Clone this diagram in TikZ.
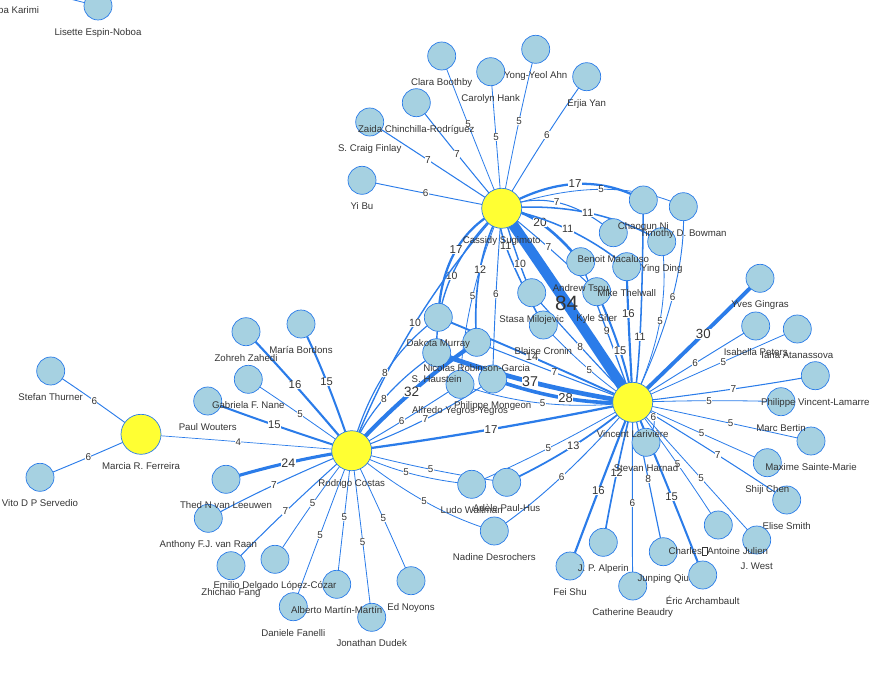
\documentclass[tikz,border=0pt]{standalone}
\usepackage{fontspec}
\setmainfont{Liberation Sans}
\usetikzlibrary{calc}

\definecolor{linkblue}{HTML}{2B7CE9}
\definecolor{authorfill}{RGB}{166,209,225}
\definecolor{hubfill}{RGB}{255,255,51}
\definecolor{labelgray}{HTML}{343434}

\pgfdeclarelayer{edges}
\pgfsetlayers{edges,main}

\begin{document}
\begin{tikzpicture}[
    x=1pt, y=-1pt,
    author/.style={circle, draw=linkblue, fill=authorfill, line width=0.7pt,
        minimum size=28pt, inner sep=0pt},
    hub/.style={author, fill=hubfill, minimum size=40pt},
    every label/.style={font=\fontsize{9.66}{11}\selectfont, text=labelgray,
        inner sep=0pt, text height=7pt, text depth=2pt, yshift=-8pt},
    link/.style={draw=linkblue,
        /utils/exec={\pgfmathsetmacro\linkw{0.69+0.12075*(#1-4)}}, line width=\linkw pt},
    wt/.style={midway, fill=white, inner sep=0.3pt, text=labelgray,
        /utils/exec={\pgfmathsetmacro\wtsize{9.66+0.138*(#1-4)}},
        font=\fontsize{\wtsize pt}{\wtsize pt}\selectfont},
    thru/.style={to path={.. controls ($1.3333*(#1)-0.3333*(\tikztotarget)$)
        and ($1.3333*(#1)-0.3333*(\tikztostart)$) .. (\tikztotarget) \tikztonodes}}
]
\useasboundingbox (0,0) rectangle (890,687);

% --- left group ---
\node[author, label=below:Paul Wouters] (PW) at (207.7,401) {};
\node[author, label=below:Gabriela F. Nane] (GN) at (248.3,379.3) {};
\node[author, label=below:Zohreh Zahedi] (ZZ) at (246,331.7) {};
\node[author, label=below:María Bordons] (MBo) at (301,324) {};
\node[author, label=below:Stefan Thurner] (ST) at (50.7,371) {};
\node[author, label=below:Vito D P Servedio] (VS) at (40,477.3) {};
\node[hub, label=below:Marcia R. Ferreira] (MF) at (141,434.3) {};
\node[author, label=below:Fariba Karimi] (FK) at (10.3,-16) {};
\node[author, label=below:Lisette Espin-Noboa] (LE) at (98,6) {};

% --- Sugimoto group ---
\node[author, label=below:Yi Bu] (YB) at (362,180.3) {};
\node[author, label=below:S. Craig Finlay] (SF) at (369.7,122) {};
\node[author, label=below:Zaida Chinchilla-Rodríguez] (ZC) at (416.3,102.7) {};
\node[author, label=below:Clara Boothby] (CB) at (441.7,56) {};
\node[author, label=below:Carolyn Hank] (CH) at (490.7,71.7) {};
\node[author, label=below:Yong-Yeol Ahn] (YA) at (535.7,49.3) {};
\node[author, label=below:Erjia Yan] (EY) at (586.7,76.7) {};
\node[hub, label=below:Cassidy Sugimoto] (CS) at (501.7,208.3) {};
\node[author, label=below:Kyle Siler] (KS) at (596.7,291.7) {};
\node[author, label=below:Andrew Tsou] (AT) at (580.7,261.7) {};
\node[author, label=below:Mike Thelwall] (MT) at (626.7,266.7) {};
\node[author, label=below:Benoit Macaluso] (BM) at (613.3,232.7) {};
\node[author, label=below:Ying Ding] (YD) at (661.7,241.7) {};
\node[author, label=below:Chaoqun Ni] (CN) at (643.3,200) {};
\node[author, label=below:Timothy D. Bowman] (TB) at (683.3,206.7) {};
\node[author, label=below:Blaise Cronin] (BC) at (543.3,325) {};
\node[author, label=below:Stasa Milojevic] (SM) at (531.7,292.7) {};

% --- middle ---
\node[author, label=below:Alfredo Yegros-Yegros] (AY) at (460,384.3) {};
\node[author, label=below:Philippe Mongeon] (PM) at (492.7,379) {};
\node[author, label=below:S. Haustein] (SHau) at (436.7,352.7) {};
\node[author, label=below:Nicolas Robinson-Garcia] (NR) at (476.7,342.3) {};
\node[author, label=below:Dakota Murray] (DM) at (438.3,317.3) {};

% --- Larivière group ---
\node[author, label=below:Yves Gingras] (YG) at (760,278.3) {};
\node[author, label=below:Isabella Peters] (IP) at (755.7,326) {};
\node[author, label=below:Iana Atanassova] (IA) at (797.3,329) {};
\node[author, label=below:Elise Smith] (ES) at (786.7,500) {};
\node[author, label=below:Shiji Chen] (SC) at (767.3,462.7) {};
\node[author, label=below:Maxime Sainte-Marie] (MS) at (811,441) {};
\node[author, label=below:Marc Bertin] (MBe) at (781,401.7) {};
\node[author, label=below:Philippe Vincent-Lamarre] (PV) at (815.3,375.7) {};
\node[author, label=below:Stevan Harnad] (SHar) at (646,442.3) {};
\node[hub, label=below:Vincent Larivière] (VL) at (632.7,402.3) {};
\node[author, label=below:Éric Archambault] (EA) at (702.7,575) {};
\node[author, label=below:Catherine Beaudry] (CBe) at (632.7,586) {};
\node[author, label=below:Junping Qiu] (JQ) at (663.3,551.7) {};
\node[author, label=below:J. West] (JW) at (756.7,540) {};
\node[author, label={below:Charles{\fboxsep=0pt\fboxrule=0.5pt\fbox{\rule{0pt}{7pt}\hspace{4.5pt}}}Antoine Julien}] (CJ) at (718.3,525) {};
\node[author, label=below:Fei Shu] (FS) at (570,566) {};
\node[author, label=below:J. P. Alperin] (JA) at (603.3,542.3) {};

% --- Costas group ---
\node[author, label=below:Nadine Desrochers] (ND) at (494.3,531) {};
\node[author, label=below:Ludo Waltman] (LW) at (471.7,484.3) {};
\node[author, label=below:Adèle Paul-Hus] (AP) at (506.7,482.3) {};
\node[author, label=below:Jonathan Dudek] (JD) at (371.7,617.3) {};
\node[author, label=below:Daniele Fanelli] (DF) at (293.3,606.7) {};
\node[author, label=below:Alberto Martín-Martín] (AM) at (336.7,584.3) {};
\node[author, label=below:Zhichao Fang] (ZF) at (231,565.7) {};
\node[author, label=below:Emilio Delgado López-Cózar] (ED) at (275,559.3) {};
\node[author, label=below:Anthony F.J. van Raan] (AR) at (208.3,518.3) {};
\node[author, label=below:Thed N van Leeuwen] (TL) at (226,479.3) {};
\node[author, label=below:Ed Noyons] (EN) at (411,580.7) {};
\node[hub, label=below:Rodrigo Costas] (RC) at (351.7,450.7) {};

\begin{pgfonlayer}{edges}
% Ferreira / Espin-Noboa
\draw[link=6] (MF.center) to[thru={94.3,400.7}] node[wt=6]{6} (ST.center);
\draw[link=6] (MF.center) to[thru={88.3,457.3}] node[wt=6]{6} (VS.center);
\draw[link=4] (MF.center) to[thru={238.3,441.7}] node[wt=4]{4} (RC.center);
\draw[link=5] (FK.center) -- (LE.center);

% Sugimoto
\draw[link=6] (CS.center) to[thru={425.7,193.3}] node[wt=6]{6} (YB.center);
\draw[link=7] (CS.center) to[thru={428,160}] node[wt=7]{7} (SF.center);
\draw[link=7] (CS.center) to[thru={457,154}] node[wt=7]{7} (ZC.center);
\draw[link=5] (CS.center) to[thru={468,124}] node[wt=5]{5} (CB.center);
\draw[link=5] (CS.center) to[thru={496,137}] node[wt=5]{5} (CH.center);
\draw[link=5] (CS.center) to[thru={519,121}] node[wt=5]{5} (YA.center);
\draw[link=6] (CS.center) to[thru={547,135}] node[wt=6]{6} (EY.center);
\draw[link=17] (CS.center) to[thru={575,184}] node[wt=17]{17} (CN.center);
\draw[link=5] (CS.center) to[thru={601,189.3}] node[wt=5]{5} (TB.center);
\draw[link=7] (CS.center) to[thru={556.7,202.3}] node[wt=7]{7} (BM.center);
\draw[link=11] (CS.center) to[thru={587.7,212.7}] node[wt=11]{11} (YD.center);
\draw[link=20] (CS.center) to[thru={540,222.7}] node[wt=20]{20} (AT.center);
\draw[link=11] (CS.center) to[thru={567.7,229.3}] node[wt=11]{11} (MT.center);
\draw[link=7] (CS.center) to[thru={548.3,247.3}] node[wt=7]{7} (KS.center);
\draw[link=11] (CS.center) to[thru={505.7,245.7}] node[wt=11]{11} (BC.center);
\draw[link=10] (CS.center) to[thru={520,264.3}] node[wt=10]{10} (SM.center);
\draw[link=6] (CS.center) to[thru={496,294.3}] node[wt=6]{6} (PM.center);
\draw[link=5] (CS.center) to[thru={472.7,295.7}] node[wt=5]{5} (AY.center);
\draw[link=12] (CS.center) to[thru={480,269.3}] node[wt=12]{12} (NR.center);
\draw[link=10] (CS.center) to[thru={451.7,275.7}] node[wt=10]{10} (SHau.center);
\draw[link=17] (CS.center) to[thru={456,250}] node[wt=17]{17} (DM.center);
\draw[link=10] (CS.center) to[thru={415,323.3}] node[wt=10]{10} (RC.center);

% Larivière
\draw[link=17] (VL.center) to[thru={491,429.3}] node[wt=17]{17} (RC.center);
\draw[link=14] (VL.center) to[thru={532,357}] node[wt=14]{14} (DM.center);
\draw[link=7] (VL.center) to[thru={554.5,372.5}] node[wt=7]{7} (NR.center);
\draw[link=5] (VL.center) to[thru={542.7,403.3}] node[wt=5]{5} (AY.center);
\draw[link=8] (VL.center) to[thru={580.3,346.5}] node[wt=8]{8} (SM.center);
\draw[link=5] (VL.center) to[thru={589.3,369.7}] node[wt=5]{5} (BC.center);
\draw[link=9] (VL.center) to[thru={606.7,330.5}] node[wt=9]{9} (AT.center);
\draw[link=15] (VL.center) to[thru={620,350.7}] node[wt=15]{15} (KS.center);
\draw[link=16] (VL.center) to[thru={628.3,314}] node[wt=16]{16} (MT.center);
\draw[link=11] (VL.center) to[thru={640,336.7}] node[wt=11]{11} (CN.center);
\draw[link=5] (VL.center) to[thru={660,320.7}] node[wt=5]{5} (YD.center);
\draw[link=6] (VL.center) to[thru={672.7,296.7}] node[wt=6]{6} (TB.center);
\draw[link=6] (VL.center) to[thru={695,363.3}] node[wt=6]{6} (IP.center);
\draw[link=5] (VL.center) to[thru={723.3,361.7}] node[wt=5]{5} (IA.center);
\draw[link=7] (VL.center) to[thru={733.3,389}] node[wt=7]{7} (PV.center);
\draw[link=5] (VL.center) to[thru={709,400.7}] node[wt=5]{5} (MBe.center);
\draw[link=5] (VL.center) to[thru={730.7,423.3}] node[wt=5]{5} (MS.center);
\draw[link=5] (VL.center) to[thru={701.7,433.5}] node[wt=5]{5} (SC.center);
\draw[link=7] (VL.center) to[thru={717.7,455}] node[wt=7]{7} (ES.center);
\draw[link=5] (VL.center) to[thru={677.7,464.3}] node[wt=5]{5} (CJ.center);
\draw[link=5] (VL.center) to[thru={701,478.3}] node[wt=5]{5} (JW.center);
\draw[link=8] (VL.center) to[thru={648.3,479.3}] node[wt=8]{8} (JQ.center);
\draw[link=15] (VL.center) to[thru={671.7,496.7}] node[wt=15]{15} (EA.center);
\draw[link=6] (VL.center) to[thru={632.3,503.3}] node[wt=6]{6} (CBe.center);
\draw[link=12] (VL.center) to[thru={616.7,472.7}] node[wt=12]{12} (JA.center);
\draw[link=16] (VL.center) to[thru={598.3,491}] node[wt=16]{16} (FS.center);
\draw[link=6] (VL.center) to[thru={653.5,416.7}] node[wt=6]{6} (SHar.center);
\draw[link=13] (VL.center) to[thru={573.3,446}] node[wt=13]{13} (AP.center);
\draw[link=5] (VL.center) to[thru={548.3,448.3}] node[wt=5]{5} (LW.center);
\draw[link=6] (VL.center) to[thru={561.7,476.7}] node[wt=6]{6} (ND.center);
\draw[link=30] (VL.center) to[thru={703.3,334}] node[wt=30]{30} (YG.center);
\draw[link=28] (VL.center) to[thru={565.5,398.3}] node[wt=28]{28} (PM.center);
\draw[link=37] (VL.center) to[thru={530,381.7}] node[wt=37]{37} (SHau.center);

% Costas
\draw[link=16] (RC.center) to[thru={295,385}] node[wt=16]{16} (ZZ.center);
\draw[link=15] (RC.center) to[thru={326.7,381.7}] node[wt=15]{15} (MBo.center);
\draw[link=5] (RC.center) to[thru={300,414.3}] node[wt=5]{5} (GN.center);
\draw[link=15] (RC.center) to[thru={274.3,425}] node[wt=15]{15} (PW.center);
\draw[link=24] (RC.center) to[thru={288.3,462.7}] node[wt=24]{24} (TL.center);
\draw[link=7] (RC.center) to[thru={274,485}] node[wt=7]{7} (AR.center);
\draw[link=7] (RC.center) to[thru={285.5,511.5}] node[wt=7]{7} (ZF.center);
\draw[link=5] (RC.center) to[thru={312.7,503.3}] node[wt=5]{5} (ED.center);
\draw[link=5] (RC.center) to[thru={320,535}] node[wt=5]{5} (DF.center);
\draw[link=5] (RC.center) to[thru={344.3,517.3}] node[wt=5]{5} (AM.center);
\draw[link=5] (RC.center) to[thru={362.7,541.7}] node[wt=5]{5} (JD.center);
\draw[link=5] (RC.center) to[thru={383.3,518.3}] node[wt=5]{5} (EN.center);
\draw[link=5] (RC.center) to[thru={406,472.3}] node[wt=5]{5} (LW.center);
\draw[link=5] (RC.center) to[thru={430.7,469.3}] node[wt=5]{5} (AP.center);
\draw[link=5] (RC.center) to[thru={424,501}] node[wt=5]{5} (ND.center);
\draw[link=6] (RC.center) to[thru={401.7,421.3}] node[wt=6]{6} (AY.center);
\draw[link=7] (RC.center) to[thru={425.3,419.3}] node[wt=7]{7} (PM.center);
\draw[link=8] (RC.center) to[thru={385,373.3}] node[wt=8]{8} (DM.center);
\draw[link=8] (RC.center) to[thru={384,398.7}] node[wt=8]{8} (SHau.center);
\draw[link=32] (RC.center) to[thru={411.7,392}] node[wt=32]{32} (NR.center);

\draw[link=84] (CS.center) to[thru={566.7,303.3}] node[wt=84, fill=none]{84} (VL.center);
\end{pgfonlayer}

\end{tikzpicture}
\end{document}
